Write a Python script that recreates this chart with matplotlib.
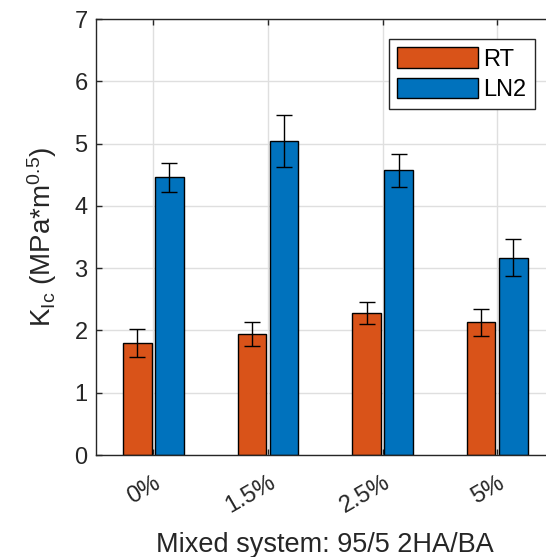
import numpy as np
import matplotlib
matplotlib.use("Agg")
import matplotlib.pyplot as plt

plt.rcParams['font.family'] = ['Liberation Sans', 'DejaVu Sans']
plt.rcParams['mathtext.fontset'] = 'custom'
plt.rcParams['mathtext.rm'] = 'Liberation Sans'
plt.rcParams['mathtext.it'] = 'Liberation Sans:italic'

# data
categories = ['0%', '1.5%', '2.5%', '5%']
rt_mean = [1.80, 1.94, 2.28, 2.13]
rt_err = [0.23, 0.19, 0.17, 0.22]
ln2_mean = [4.46, 5.04, 4.57, 3.17]
ln2_err = [0.23, 0.42, 0.26, 0.30]

dark = '#262626'
fig = plt.figure(figsize=(5.46, 5.57), dpi=100)
ax = fig.add_axes([96 / 546, 102 / 557, 458.5 / 546, 436 / 557])

x = np.arange(1, len(categories) + 1)
w = 0.25
off = 0.14
ax.bar(x - off, rt_mean, w, color='#D95319', edgecolor='black', linewidth=1.0, label='RT', zorder=2)
ax.bar(x + off, ln2_mean, w, color='#0072BD', edgecolor='black', linewidth=1.0, label='LN2', zorder=2)
ax.errorbar(x - off, rt_mean, yerr=rt_err, fmt='none', ecolor='black', elinewidth=1.0, capsize=5.8, capthick=1.0, zorder=3)
ax.errorbar(x + off, ln2_mean, yerr=ln2_err, fmt='none', ecolor='black', elinewidth=1.0, capsize=5.8, capthick=1.0, zorder=3)

ax.set_xlim(0.5, 4.5)
ax.set_ylim(0, 7)
ax.set_xticks(x)
ax.set_xticklabels(categories, rotation=30, ha='right', va='top', rotation_mode='anchor')
ax.set_yticks(range(0, 8))
ax.tick_params(axis='both', direction='in', length=4, width=1, colors=dark, labelsize=17)
ax.tick_params(axis='x', top=True, pad=12)
ax.tick_params(axis='y', right=True, pad=6)
for s in ax.spines.values():
    s.set_color(dark)
    s.set_linewidth(1.0)

ax.set_axisbelow(True)
ax.grid(True, color='#dfdfdf', linewidth=1.0)

ax.set_xlabel('Mixed system: 95/5 2HA/BA', fontsize=19.5, color=dark)
ax.xaxis.set_label_coords(0.5, -(552 - 455) / 436)
ax.xaxis.label.set_va('baseline')
ax.set_ylabel(r'K$_{\mathrm{Ic}}$ (MPa*m$^{\mathrm{0.5}}$)', fontsize=20, color=dark)
ax.yaxis.set_label_coords(-0.118, 0.5)
ax.yaxis.label.set_va('center')

leg = ax.legend(loc='upper left', bbox_to_anchor=(293 / 458.5, 1 - 20 / 436), fontsize=17,
                handlelength=3.4, handleheight=0.97, fancybox=False, edgecolor=dark,
                framealpha=1, borderpad=0.35, labelspacing=0.3, handletextpad=0.25,
                borderaxespad=0)
leg.get_frame().set_linewidth(1.0)

fig.savefig('out.png', dpi=100)
